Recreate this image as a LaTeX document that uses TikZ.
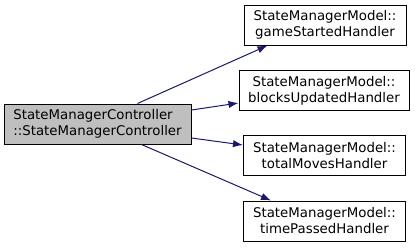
\documentclass[tikz,border=0pt]{standalone}
\usepackage{fontspec}
\setmainfont{DejaVu Sans}
\usetikzlibrary{arrows.meta,calc}

\definecolor{edgeblue}{RGB}{25,25,112}
\definecolor{callgray}{RGB}{191,191,191}

\begin{document}
\begin{tikzpicture}[x=0.75pt, y=-0.75pt, font=\fontsize{10}{12}\selectfont,
  fn/.style={draw=black, fill=white, line width=0.75pt, inner sep=0pt, minimum height=30pt, align=center},
  call/.style={draw=edgeblue, line width=0.75pt, -{Latex[length=7.5pt,width=5.5pt]}}]

\useasboundingbox (0,0) rectangle (415,248);

% caller
\node [fn, fill=callgray, minimum width=140.25pt, align=left] (ctrl) at (97.5,124) {StateManagerController\\::StateManagerController};

% callees
\node [fn, minimum width=121.5pt] (started) at (325,25) {StateManagerModel::\\gameStartedHandler};
\node [fn, minimum width=127.5pt] (blocks) at (324,90.5) {StateManagerModel::\\blocksUpdatedHandler};
\node [fn, minimum width=121.5pt] (moves) at (324.5,155.5) {StateManagerModel::\\totalMovesHandler};
\node [fn, minimum width=121.5pt] (passed) at (324.5,221) {StateManagerModel::\\timePassedHandler};

% calls
\draw [call] ($(ctrl.north west)+(134,0)$) -- ($(started.south west)+(24,0)$);
\draw [call] ($(ctrl.east)+(0,-14)$) -- ($(blocks.west)+(0,12.5)$);
\draw [call] ($(ctrl.east)+(0,14)$) -- ($(moves.west)+(0,-10.5)$);
\draw [call] ($(ctrl.south west)+(138,0)$) -- ($(passed.north west)+(28,0)$);

\end{tikzpicture}
\end{document}
